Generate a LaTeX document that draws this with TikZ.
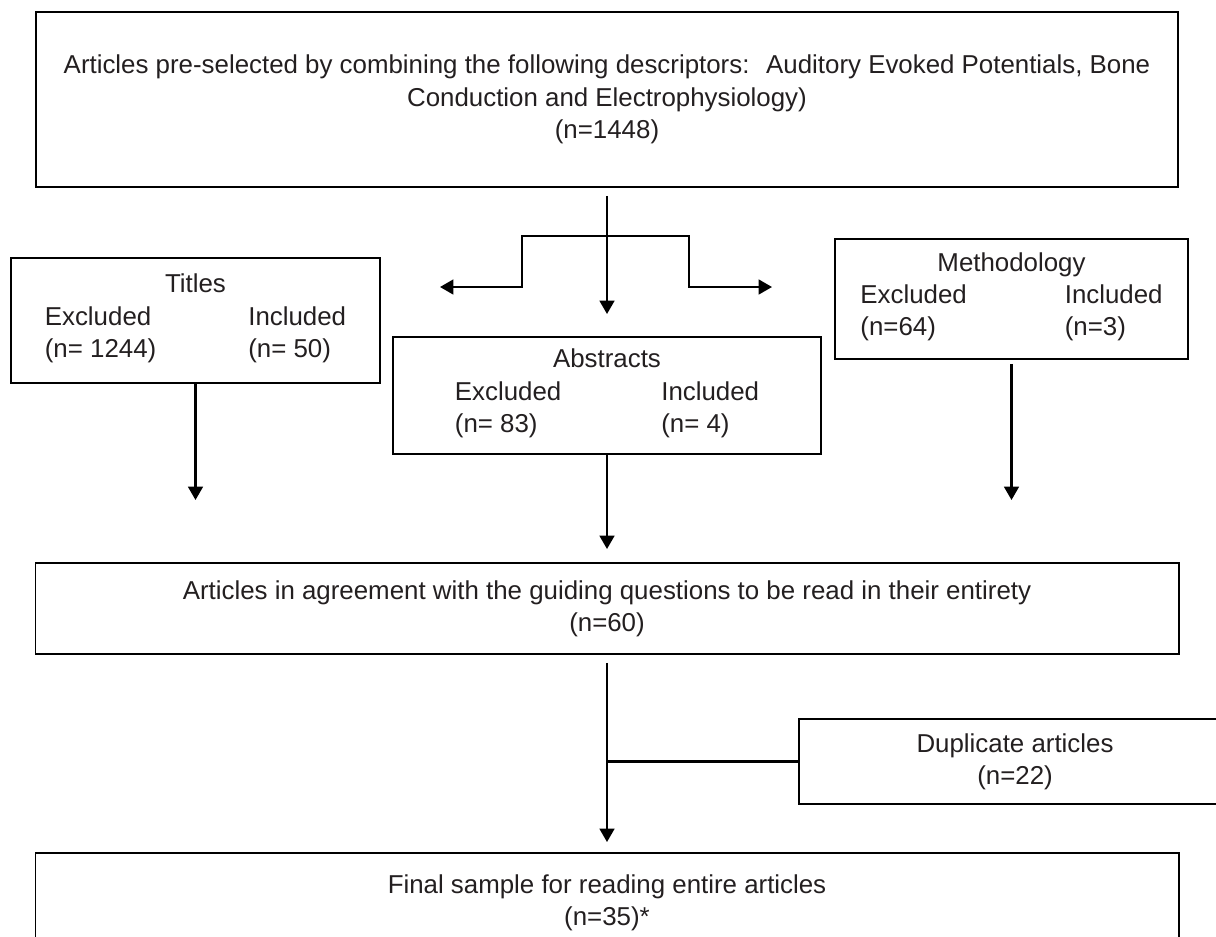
\documentclass[tikz,border=0pt]{standalone}
\usepackage{fontspec}
\setmainfont{Liberation Sans}
\usepackage{xcolor}
\usetikzlibrary{arrows.meta, positioning, calc}
\definecolor{ink}{HTML}{231F20}
\tikzset{
        block/.style = {draw, rectangle, line width=1.4pt,
            align=center, text=ink, inner sep=0pt,
            font=\fontsize{18.4}{23}\selectfont},
        arrow/.style = {draw, line width=1.6pt, -{Triangle[length=9.5pt, width=10.5pt]}},
        link/.style = {draw, line width=1.6pt},
}
% heading over two columns: excluded / included
\newcommand{\exclinc}[4]{#1\\
  \begin{tabular}[t]{@{}l@{\hspace{#4}}l@{}}Excluded & Included\\ #2 & #3\end{tabular}}

\begin{document}
\begin{tikzpicture}
\clip (0,0) rectangle (30.4,-23.4);
\node [block, minimum width=28.55cm, minimum height=4.375cm] (preselected) at (15.175,-2.4875)
  {Articles pre-selected by combining the following descriptors:~ Auditory Evoked Potentials, Bone\\
   Conduction and Electrophysiology)\\ (n=1448)};
\node [block, minimum width=9.225cm, minimum height=3.125cm] (titles) at (4.8875,-8.0125)
  {\exclinc{Titles}{(n= 1244)}{(n= 50)}{2.3cm}};
\node [block, minimum width=10.7cm, minimum height=2.925cm] (abstracts) at (15.175,-9.8875)
  {\exclinc{Abstracts}{(n= 83)}{(n= 4)}{2.5cm}};
\node [block, minimum width=8.825cm, minimum height=3cm] (methodology) at (25.2875,-7.475)
  {\exclinc{Methodology}{(n=64)}{(n=3)}{2.45cm}};
\node [block, minimum width=28.575cm, minimum height=2.275cm] (agreement) at (15.175,-15.2125)
  {Articles in agreement with the guiding questions to be read in their entirety\\ (n=60)};
\node [block, minimum width=10.8cm, minimum height=2.125cm] (duplicate) at (25.375,-19.0375)
  {Duplicate articles\\ (n=22)};
\node [block, minimum width=28.575cm, minimum height=2.5cm] (final) at (15.175,-22.575)
  {Final sample for reading entire articles\\ (n=35)*};
\coordinate (split) at (15.175,-5.9);
\coordinate (totitles) at (11.0,-7.175);
\coordinate (tometh) at (19.3,-7.175);
\coordinate (lowtips) at (0,-12.5);
\draw [arrow] ([yshift=-0.2cm]preselected.south) -- ([yshift=0.55cm]abstracts.north);
\draw [arrow] (split) -- ++(-2.125,0) |- (totitles);
\draw [arrow] (split) -- ++(2.05,0) |- (tometh);
\draw [arrow] (titles.south) -- (titles.south |- lowtips);
\draw [arrow] (abstracts.south) -- ([yshift=0.325cm]agreement.north);
\draw [arrow] ([yshift=-0.1cm]methodology.south) -- (methodology.south |- lowtips);
\draw [arrow] ([yshift=-0.2cm]agreement.south) -- ([yshift=0.25cm]final.north);
\draw [link] (duplicate.west) -- (duplicate.west -| agreement.south);
\end{tikzpicture}
\end{document}
